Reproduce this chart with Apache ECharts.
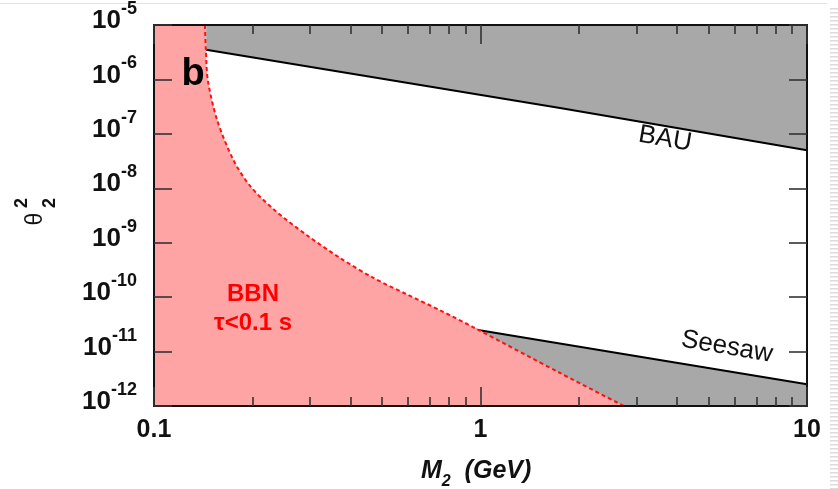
<!DOCTYPE html>
<html><head><meta charset="utf-8">
<script src="https://cdn.jsdelivr.net/npm/echarts@6/dist/echarts.min.js"></script>
<style>html,body{margin:0;padding:0;background:#fff}#c{width:838px;height:489px}</style>
</head><body><div id="c"></div>
<script>
// ---- data (x = M2 in GeV, y = theta^2) ----
const xTickValues = [0.1, 1, 10];
const yRange = [1e-12, 1e-5];
const xRange = [0.1, 10];
const minorXTicks = [0.2,0.3,0.4,0.5,0.6,0.7,0.8,0.9,2,3,4,5,6,7,8,9];
// BBN lifetime bound tau < 0.1 s (x, log10 y)
const bbnX    = [0.1432, 0.1442, 0.1462, 0.156, 0.1746, 0.1968, 0.2348, 0.294, 0.3713, 0.4687, 0.5957, 0.7516, 0.948, 1.752, 2.75];
const bbnLogY = [-5.0, -5.47, -6.016, -6.741, -7.466, -7.956, -8.409, -8.863, -9.280, -9.643, -9.951, -10.241, -10.549, -11.393, -12.0];
// BAU upper bound
const bauX    = [0.1445, 1.752, 10];
const bauLogY = [-5.453, -6.523, -7.303];
// Seesaw lower bound
const seesawX    = [0.962, 3.08, 10];
const seesawLogY = [-10.595, -11.094, -11.601];

const pts = (xs, ly) => xs.map((x, i) => [x, Math.pow(10, ly[i])]);
const FONT = '"Liberation Sans", Arial, sans-serif';
const chart = echarts.init(document.getElementById('c'), null, {renderer: 'canvas'});

const tickStyle = {color: '#333', width: 1.6};
const lineStyleAxis = {color: '#111', width: 2};

chart.setOption({
  animation: false,
  backgroundColor: '#fff',
  grid: {left: 154, right: 31, top: 19, bottom: 83, containLabel: false},
  xAxis: [
    {type: 'log', logBase: 10, min: xRange[0], max: xRange[1], interval: 1, position: 'bottom', z: 10,
     axisLine: {show: true, onZero: false, lineStyle: lineStyleAxis},
     axisTick: {show: true, inside: true, length: 19, lineStyle: tickStyle},
     splitLine: {show: false}, minorTick: {show: false},
     axisLabel: {show: true, margin: 12, fontFamily: FONT, fontWeight: 'bold', fontSize: 25, color: '#111',
       formatter: v => String(+(+v).toPrecision(3))}},
    {type: 'log', logBase: 10, min: xRange[0], max: xRange[1], interval: 1, position: 'top', z: 10,
     axisLine: {show: true, onZero: false, lineStyle: lineStyleAxis},
     axisTick: {show: true, inside: true, length: 19, lineStyle: tickStyle},
     splitLine: {show: false}, axisLabel: {show: false}},
    {type: 'value', min: -1, max: 1, position: 'bottom', z: 10,
     axisLine: {show: false, onZero: false}, splitLine: {show: false}, axisLabel: {show: false},
     axisTick: {show: true, inside: true, length: 9, lineStyle: tickStyle, customValues: minorXTicks.map(Math.log10)}},
    {type: 'value', min: -1, max: 1, position: 'top', z: 10,
     axisLine: {show: false, onZero: false}, splitLine: {show: false}, axisLabel: {show: false},
     axisTick: {show: true, inside: true, length: 9, lineStyle: tickStyle, customValues: minorXTicks.map(Math.log10)}}
  ],
  yAxis: [
    {type: 'log', logBase: 10, min: yRange[0], max: yRange[1], interval: 1, position: 'left', z: 10,
     axisLine: {show: true, onZero: false, lineStyle: lineStyleAxis},
     axisTick: {show: true, inside: true, length: 18, lineStyle: tickStyle},
     splitLine: {show: false},
     axisLabel: {show: true, margin: 17, color: '#111', padding: [0, 0, 16, 0],
       formatter: v => '{b|10}{s|' + Math.round(Math.log10(v)) + '}',
       rich: {
         b: {fontFamily: FONT, fontWeight: 'bold', fontSize: 26, lineHeight: 10, verticalAlign: 'bottom', color: '#111'},
         s: {fontFamily: FONT, fontWeight: 'bold', fontSize: 18, lineHeight: 34, verticalAlign: 'top', color: '#111'}
       }}},
    {type: 'log', logBase: 10, min: yRange[0], max: yRange[1], interval: 1, position: 'right', z: 10,
     axisLine: {show: true, onZero: false, lineStyle: lineStyleAxis},
     axisTick: {show: true, inside: true, length: 18, lineStyle: tickStyle},
     splitLine: {show: false}, axisLabel: {show: false}}
  ],
  series: [
    {type: 'line', name: 'BAU', z: 2, data: pts(bauX, bauLogY), symbol: 'none',
     lineStyle: {color: '#000', width: 2}, areaStyle: {origin: 'end', color: '#a8a8a8', opacity: 1}},
    {type: 'line', name: 'Seesaw', z: 2, data: pts(seesawX, seesawLogY), symbol: 'none',
     lineStyle: {color: '#000', width: 2}, areaStyle: {origin: 'start', color: '#a8a8a8', opacity: 1}},
    {type: 'line', name: 'BBN-left', z: 3, data: [[xRange[0], yRange[1]], [bbnX[0] + 0.001, yRange[1]]], symbol: 'none',
     lineStyle: {width: 0}, areaStyle: {origin: 'start', color: '#ffa4a4', opacity: 1}},
    {type: 'line', name: 'BBN', z: 4, data: pts(bbnX, bbnLogY), symbol: 'none', smooth: 0.3,
     lineStyle: {color: '#ff1010', width: 2, type: [4, 3]}, areaStyle: {origin: 'start', color: '#ffa4a4', opacity: 1}}
  ],
  graphic: [
    {type: 'line', shape: {x1: 0, y1: 3.5, x2: 827, y2: 3.5}, style: {stroke: '#e2e2e2', lineWidth: 1}, silent: true},
    {type: 'line', shape: {x1: 834, y1: 8, x2: 834, y2: 489}, style: {stroke: '#dcdcdc', lineWidth: 8, lineDash: [1.5, 2.5]}, silent: true},
    {type: 'text', x: 193, y: 75, z: 100, style: {text: 'b', font: 'bold 38px ' + FONT, fill: '#000', textAlign: 'center', textVerticalAlign: 'middle'}},
    {type: 'text', x: 253, y: 294, z: 100, style: {text: 'BBN', font: 'bold 24px ' + FONT, fill: '#ff0000', textAlign: 'center', textVerticalAlign: 'middle'}},
    {type: 'text', x: 253, y: 323, z: 100, style: {text: 'τ<0.1 s', font: 'bold 24px ' + FONT, fill: '#ff0000', textAlign: 'center', textVerticalAlign: 'middle'}},
    {type: 'text', x: 665, y: 139, rotation: -0.17, z: 100, style: {text: 'BAU', font: '26px ' + FONT, fill: '#111', textAlign: 'center', textVerticalAlign: 'middle'}},
    {type: 'text', x: 727, y: 347, rotation: -0.17, z: 100, style: {text: 'Seesaw', font: '26px ' + FONT, fill: '#111', textAlign: 'center', textVerticalAlign: 'middle'}},
    {type: 'text', x: 36, y: 219, rotation: Math.PI / 2, z: 100, style: {text: 'θ', font: '23px ' + FONT, fill: '#111', textAlign: 'center', textVerticalAlign: 'middle'}},
    {type: 'text', x: 22, y: 203, rotation: Math.PI / 2, z: 100, style: {text: '2', font: 'bold 18px ' + FONT, fill: '#111', textAlign: 'center', textVerticalAlign: 'middle'}},
    {type: 'text', x: 50, y: 203, rotation: Math.PI / 2, z: 100, style: {text: '2', font: 'bold 18px ' + FONT, fill: '#111', textAlign: 'center', textVerticalAlign: 'middle'}},
    {type: 'text', x: 421, y: 459, z: 100, style: {
      text: '{m|M}{s|2}{m|  (GeV)}', textAlign: 'left', textVerticalAlign: 'top',
      rich: {
        m: {fontFamily: FONT, fontWeight: 'bold', fontStyle: 'italic', fontSize: 25, lineHeight: 25, verticalAlign: 'top', fill: '#111'},
        s: {fontFamily: FONT, fontWeight: 'bold', fontStyle: 'italic', fontSize: 16, lineHeight: 16, verticalAlign: 'top', padding: [15,0,0,0], fill: '#111'}
      }}}
  ]
});
</script></body></html>
